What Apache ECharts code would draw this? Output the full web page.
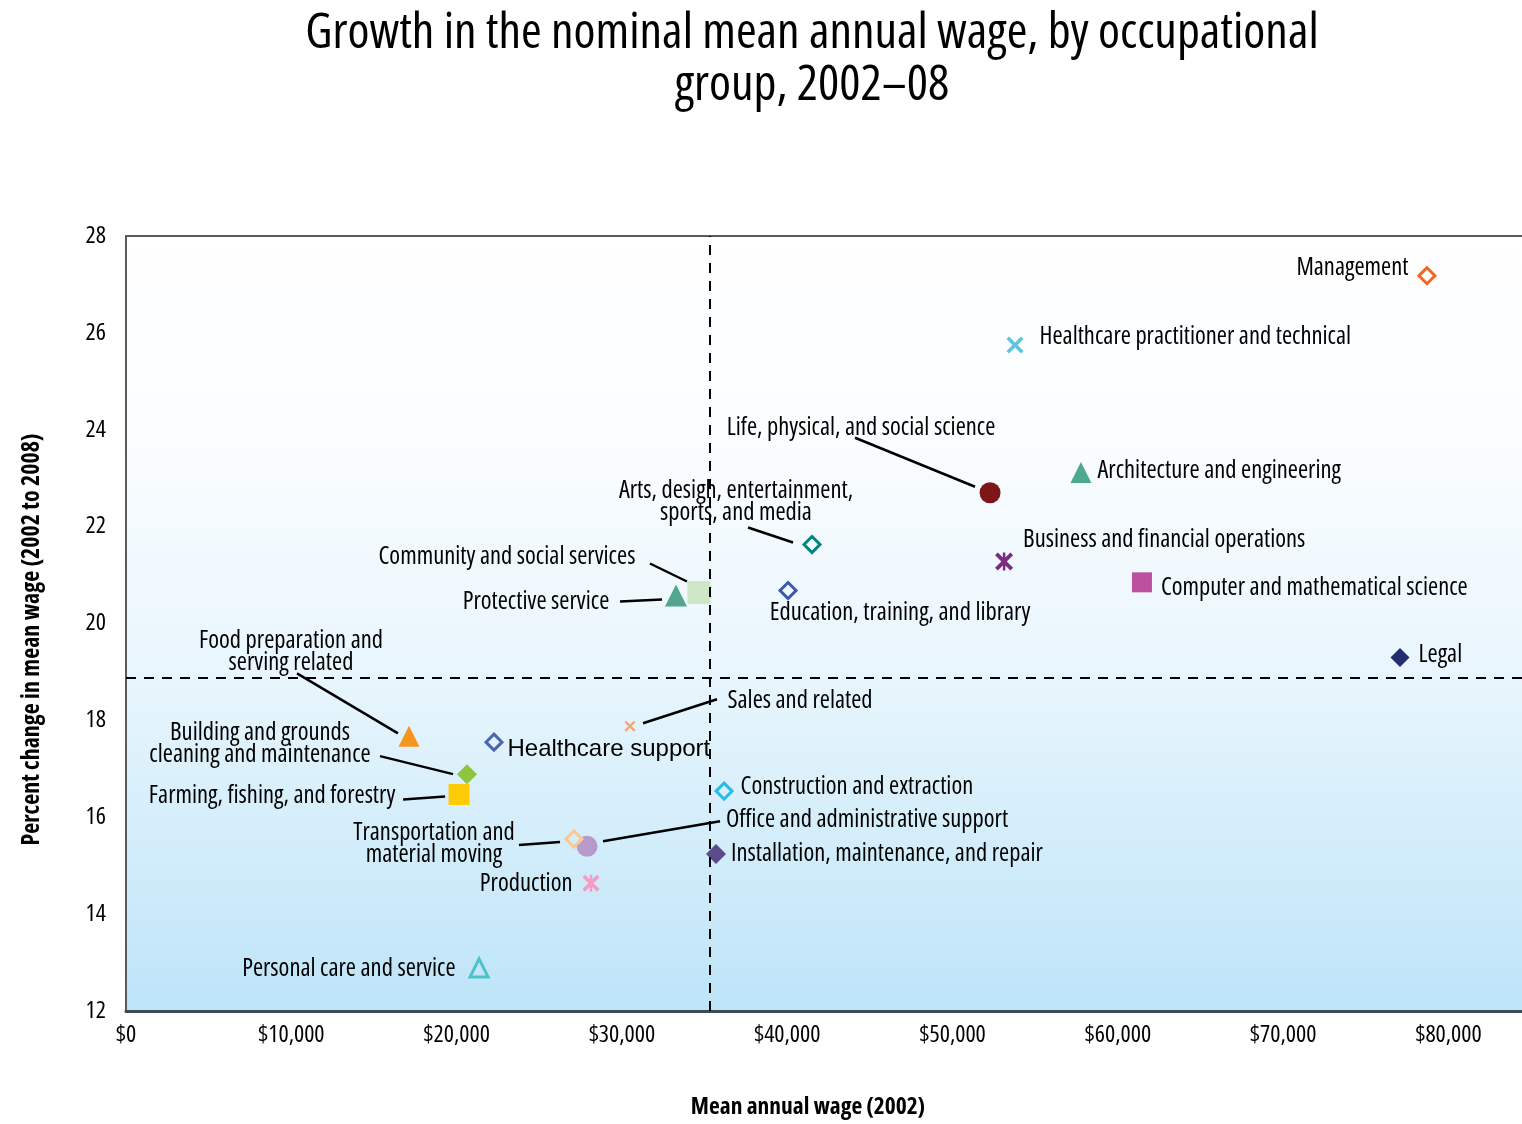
<!DOCTYPE html>
<html>
<head>
<meta charset="utf-8">
<title>Growth in the nominal mean annual wage, by occupational group, 2002–08</title>
<script src="https://cdn.jsdelivr.net/npm/echarts@6/dist/echarts.min.js"></script>
<style>
  html, body { margin: 0; padding: 0; background: #ffffff; }
  #chart { width: 1522px; height: 1124px; }
</style>
</head>
<body>
<div id="chart"></div>
<script>
// Occupational groups (label text as drawn)
const groups = [
  'Management',
  'Healthcare practitioner and technical',
  'Life, physical, and social science',
  'Architecture and engineering',
  'Arts, desigh, entertainment,\nsports, and media',
  'Business and financial operations',
  'Computer and mathematical science',
  'Education, training, and library',
  'Community and social services',
  'Protective service',
  'Legal',
  'Food preparation and\nserving related',
  'Healthcare support',
  'Sales and related',
  'Building and grounds\ncleaning and maintenance',
  'Farming, fishing, and forestry',
  'Construction and extraction',
  'Office and administrative support',
  'Transportation and\nmaterial moving',
  'Installation, maintenance, and repair',
  'Production',
  'Personal care and service'
];

// Mean annual wage, 2002 (dollars)
const wages = [
  78700, 53780, 52270, 57770, 41500, 53120, 61460, 40050, 34660, 33270, 77070,
  17120, 22260, 30490, 20630, 20150, 36180, 27890, 27100, 35690, 28130, 21360
];

// Percent change in mean wage, 2002 to 2008
const growth = [
  27.18, 25.75, 22.70, 23.12, 21.63, 21.28, 20.85, 20.68, 20.64, 20.58, 19.30,
  17.67, 17.55, 17.88, 16.89, 16.47, 16.54, 15.40, 15.55, 15.24, 14.64, 12.89
];

// Reference lines (averages)
const avgWage = 35330;
const avgGrowth = 18.87;

const xTicks = { min: 0, max: 84450, interval: 10000 };
const yTicks = { min: 12, max: 28, interval: 2 };

// ---- styling (kept apart from the data) ----
const PATH_X = 'path://M3,0 L10,7 L17,0 L20,3 L13,10 L20,17 L17,20 L10,13 L3,20 L0,17 L7,10 L0,3 Z';
const PATH_STAR = PATH_X + ' M8.6,0 L11.4,0 L11.4,20 L8.6,20 Z';

// [symbol, color, size, hollow]
const markerStyles = [
  ['diamond', '#f26522', 16, true],
  [PATH_X, '#5cc6dc', 17, false],
  ['circle', '#7e1518', 21, false],
  ['triangle', '#4da890', 21, false],
  ['diamond', '#00857d', 16, true],
  [PATH_STAR, '#7b2b80', 18, false],
  ['rect', '#bd519f', 20, false],
  ['diamond', '#3d59a9', 16, true],
  ['rect', '#cde7c6', 23, false],
  ['triangle', '#52a690', 22, false],
  ['diamond', '#252b70', 19, false],
  ['triangle', '#f7941e', 21, false],
  ['diamond', '#4a66b0', 16, true],
  [PATH_X, '#f8a46d', 11, false],
  ['diamond', '#8cc540', 20, false],
  ['rect', '#ffcb05', 21, false],
  ['diamond', '#27bde9', 16, true],
  ['circle', '#b79ac9', 21, false],
  ['diamond', '#fcc78e', 16, true],
  ['diamond', '#5b4b8c', 20, false],
  [PATH_STAR, '#f59bc4', 17, false],
  ['triangle', '#4cc3c6', 18, true]
];

// [position, distance, dx, dy, big]
const labelPlacement = [
  ['left', 9, 0, -8],
  ['right', 16, 0, -8],
  ['inside', 0, -129, -65],
  ['right', 6, 0, -1],
  ['inside', 0, -76, -43],
  ['right', 10, 0, -21],
  ['right', 9, 0, 6],
  ['inside', 0, 112, 22],
  ['inside', 0, -192, -35],
  ['inside', 0, -140, 7],
  ['right', 9, 0, -2],
  ['inside', 0, -118, -84],
  ['right', 4, 0, 7, true],
  ['inside', 0, 170, -25],
  ['inside', 0, -207, -30],
  ['inside', 0, -187, 2],
  ['right', 7, 0, -4],
  ['inside', 0, 280, -26],
  ['inside', 0, -140, 5],
  ['right', 5, 0, 0],
  ['left', 10, 0, 1],
  ['left', 13, 0, 1]
];

// leader line ends, pixel offsets from the marker: [x1, y1, x2, y2]
const leaderOffsets = {
  2: [-15, -6, -135, -55],
  4: [-19, -2, -64, -17],
  8: [-12, -11, -49, -29],
  9: [-14, 4, -56, 6],
  11: [-11, -3, -112, -63],
  13: [13, -3, 87, -27],
  14: [-14, 0, -87, -18],
  15: [-14, 2, -56, 5],
  17: [16, -5, 133, -25],
  18: [-14, 3, -55, 6]
};

// narrow face of Open Sans, picked through the font-stretch keyword
const NARROW = "'Open Sans', 'DejaVu Sans Condensed', sans-serif";
const CONDENSED = 'condensed';
const REGULAR = "'Liberation Sans', Arial, sans-serif";

function money(v) {
  return '$' + v.toLocaleString('en-US');
}

const points = groups.map((name, i) => {
  const [symbol, color, size, hollow] = markerStyles[i];
  const [position, distance, , , big] = labelPlacement[i];
  return {
    name,
    value: [wages[i], growth[i]],
    symbol,
    symbolSize: size,
    itemStyle: hollow
      ? { color: 'rgba(255,255,255,0)', borderColor: color, borderWidth: 3, opacity: 1 }
      : { color, opacity: 1 },
    label: {
      position,
      distance,
      align: position === 'inside' ? 'center' : undefined,
      fontFamily: big ? REGULAR : NARROW,
      fontStyle: big ? 'normal' : CONDENSED,
      fontSize: big ? 24 : 24.5
    }
  };
});

const leaderData = Object.keys(leaderOffsets).map((k) => {
  const i = Number(k);
  return [wages[i], growth[i], i];
});

const chart = echarts.init(document.getElementById('chart'), null, { renderer: 'canvas' });

chart.setOption({
  animation: false,
  backgroundColor: '#ffffff',
  textStyle: { fontFamily: NARROW },
  title: {
    text: 'Growth in the nominal mean annual wage, by occupational\ngroup, 2002\u201308',
    left: 807,
    top: 3,
    textAlign: 'center',
    textStyle: {
      fontFamily: NARROW,
      fontStyle: CONDENSED,
      fontSize: 50,
      fontWeight: 'normal',
      lineHeight: 52,
      color: '#000'
    }
  },
  grid: {
    left: 126,
    top: 236,
    right: 0,
    bottom: 112,
    show: true,
    borderWidth: 0,
    backgroundColor: new echarts.graphic.LinearGradient(0, 0, 0, 1, [
      { offset: 0, color: '#ffffff' },
      { offset: 0.25, color: '#fbfdff' },
      { offset: 0.56, color: '#e9f6fd' },
      { offset: 1, color: '#bde4f8' }
    ])
  },
  xAxis: [
    {
      type: 'value',
      min: xTicks.min,
      max: xTicks.max,
      interval: xTicks.interval,
      name: 'Mean annual wage (2002)',
      nameLocation: 'middle',
      nameGap: 84,
      nameTextStyle: {
        fontFamily: NARROW,
        fontStyle: CONDENSED,
        fontWeight: 'bold',
        fontSize: 23.5,
        color: '#000',
        padding: [0, 32, 0, 0]
      },
      axisLine: { show: true, onZero: false, lineStyle: { color: '#3e4a52', width: 3 } },
      axisTick: { show: false },
      splitLine: { show: false },
      axisLabel: {
        margin: 12,
        fontFamily: NARROW,
        fontStyle: CONDENSED,
        fontSize: 24,
        color: '#000',
        showMaxLabel: false,
        formatter: money
      }
    },
    {
      type: 'value',
      position: 'top',
      min: xTicks.min,
      max: xTicks.max,
      interval: xTicks.interval,
      axisLine: { show: true, onZero: false, lineStyle: { color: '#5a5a5a', width: 2 } },
      axisTick: { show: false },
      axisLabel: { show: false },
      splitLine: { show: false }
    }
  ],
  yAxis: {
    type: 'value',
    min: yTicks.min,
    max: yTicks.max,
    interval: yTicks.interval,
    name: 'Percent change in mean wage (2002 to 2008)',
    nameLocation: 'middle',
    nameGap: 82,
    nameTextStyle: {
      fontFamily: NARROW,
      fontStyle: CONDENSED,
      fontWeight: 'bold',
      fontSize: 24,
      color: '#000',
      padding: [0, 32, 0, 0]
    },
    axisLine: { show: true, onZero: false, lineStyle: { color: '#5a5a5a', width: 2 } },
    axisTick: { show: false },
    splitLine: { show: false },
    axisLabel: { margin: 20, fontFamily: NARROW, fontStyle: CONDENSED, fontSize: 24, color: '#000' }
  },
  series: [
    {
      type: 'custom',
      xAxisIndex: 0,
      silent: true,
      data: leaderData,
      renderItem: (params, api) => {
        const p = api.coord([api.value(0), api.value(1)]);
        const off = leaderOffsets[api.value(2)];
        return {
          type: 'line',
          shape: {
            x1: p[0] + off[0],
            y1: p[1] + off[1],
            x2: p[0] + off[2],
            y2: p[1] + off[3]
          },
          style: { stroke: '#000', lineWidth: 2.5 }
        };
      },
      z: 2
    },
    {
      type: 'scatter',
      xAxisIndex: 0,
      data: points,
      label: {
        show: true,
        formatter: '{b}',
        color: '#000',
        lineHeight: 22
      },
      labelLayout: (params) => {
        const place = labelPlacement[params.dataIndex];
        if (!place) {
          return {};
        }
        return { dx: place[2], dy: place[3] };
      },
      emphasis: { disabled: true },
      markLine: {
        silent: true,
        symbol: 'none',
        label: { show: false },
        lineStyle: { color: '#000', type: [10, 8], width: 2 },
        data: [{ xAxis: avgWage }, { yAxis: avgGrowth }]
      },
      z: 3
    }
  ]
});
</script>
</body>
</html>
